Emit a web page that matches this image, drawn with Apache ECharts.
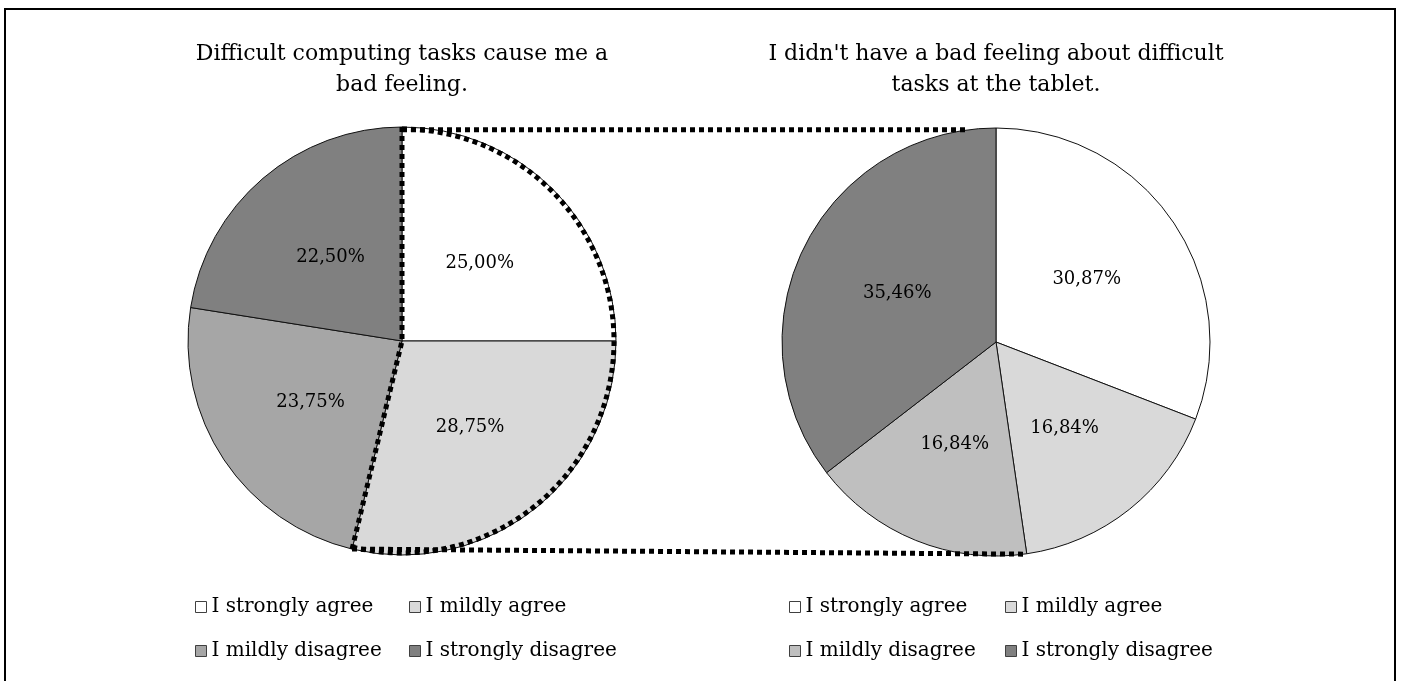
<!DOCTYPE html>
<html>
<head>
<meta charset="utf-8">
<title>Difficult tasks</title>
<script src="https://cdn.jsdelivr.net/npm/echarts@6/dist/echarts.min.js"></script>
<style>
  html, body { margin: 0; padding: 0; background: #fff; }
  #chart { width: 1401px; height: 681px; }
</style>
</head>
<body>
<div id="chart"></div>
<script>
// data
var categories = ["I strongly agree", "I mildly agree", "I mildly disagree", "I strongly disagree"];
var computingValues = [25.00, 28.75, 23.75, 22.50];
var tabletValues = [30.87, 16.84, 16.84, 35.46];
var computingColors = ["#ffffff", "#d9d9d9", "#a6a6a6", "#808080"];
var tabletColors = ["#ffffff", "#d9d9d9", "#bfbfbf", "#808080"];
var titles = [
  "Difficult computing tasks cause me a\nbad feeling.",
  "I didn't have a bad feeling about difficult\ntasks at the tablet."
];
// the dotted outline wraps the "agree" slices of the first pie
var outlinedSlices = 2;

var FONT = "DejaVu Serif";
var R = 214;
var c1 = [402, 341];
var c2 = [996, 342];

function fmt(p) {
  return p.value.toFixed(2).replace(".", ",") + "%";
}

function pieData(values, colors) {
  return categories.map(function (name, i) {
    return { name: name, value: values[i], itemStyle: { color: colors[i] } };
  });
}

function pieSeries(values, colors, center) {
  return {
    type: "pie",
    center: center,
    radius: R,
    startAngle: 90,
    clockwise: true,
    avoidLabelOverlap: false,
    itemStyle: { borderColor: "#111", borderWidth: 1 },
    label: {
      show: true,
      position: "inner",
      formatter: fmt,
      color: "#000",
      fontSize: 18,
      fontFamily: FONT
    },
    labelLine: { show: false },
    emphasis: { disabled: true },
    data: pieData(values, colors)
  };
}

function legendCol(x, idx, colors) {
  return {
    orient: "vertical",
    left: x,
    top: 597,
    padding: 0,
    itemGap: 24,
    itemWidth: 11,
    itemHeight: 11,
    icon: "rect",
    selectedMode: false,
    itemStyle: { borderColor: "#404040", borderWidth: 1 },
    textStyle: { fontSize: 20, fontFamily: FONT, color: "#000", lineHeight: 20 },
    data: idx.map(function (i) {
      return { name: categories[i], itemStyle: { color: colors[i] } };
    })
  };
}

// dotted outline + connectors, built from the first pie's slices
var total = computingValues.reduce(function (a, b) { return a + b; }, 0);
var part = 0;
for (var i = 0; i < outlinedSlices; i++) part += computingValues[i];
var a0 = -Math.PI / 2;
var a1 = a0 + part / total * 2 * Math.PI;
var topPt = [c1[0], c1[1] - R];
var botPt = [c1[0] + R * Math.cos(a1), c1[1] + R * Math.sin(a1)];
var off = 7.5 * Math.PI / 180;
var rTop = [c2[0] - R * Math.sin(off), c2[1] - R * Math.cos(off)];
var rBot = [c2[0] + R * Math.sin(off), c2[1] + R * Math.cos(off)];

var dotted = { stroke: "#000", lineWidth: 5, lineDash: [5, 4], fill: null };

var titleStyle = { fontSize: 22, fontWeight: "normal", fontFamily: FONT, color: "#000", lineHeight: 31 };

var chart = echarts.init(document.getElementById("chart"));
chart.setOption({
  animation: false,
  backgroundColor: "#fff",
  title: [
    { text: titles[0], left: c1[0], top: 39, padding: 0, textAlign: "center", textStyle: titleStyle },
    { text: titles[1], left: c2[0], top: 39, padding: 0, textAlign: "center", textStyle: titleStyle }
  ],
  legend: [
    legendCol(195, [0, 2], computingColors),
    legendCol(409, [1, 3], computingColors),
    legendCol(789, [0, 2], tabletColors),
    legendCol(1005, [1, 3], tabletColors)
  ],
  series: [
    pieSeries(computingValues, computingColors, c1),
    pieSeries(tabletValues, tabletColors, c2)
  ],
  graphic: [
    {
      type: "rect", silent: true, z: 100,
      shape: { x: 5, y: 9, width: 1390, height: 700 },
      style: { stroke: "#000", lineWidth: 2, fill: null }
    },
    {
      type: "polyline", silent: true, z: 100,
      shape: { points: [topPt, c1, botPt] },
      style: dotted
    },
    {
      type: "arc", silent: true, z: 100,
      shape: { cx: c1[0], cy: c1[1], r: R - 2, startAngle: a0, endAngle: a1, clockwise: true },
      style: dotted
    },
    {
      type: "line", silent: true, z: 100,
      shape: { x1: topPt[0], y1: rTop[1], x2: rTop[0], y2: rTop[1] },
      style: dotted
    },
    {
      type: "line", silent: true, z: 100,
      shape: { x1: botPt[0], y1: botPt[1], x2: rBot[0], y2: rBot[1] },
      style: dotted
    }
  ]
});
</script>
</body>
</html>
